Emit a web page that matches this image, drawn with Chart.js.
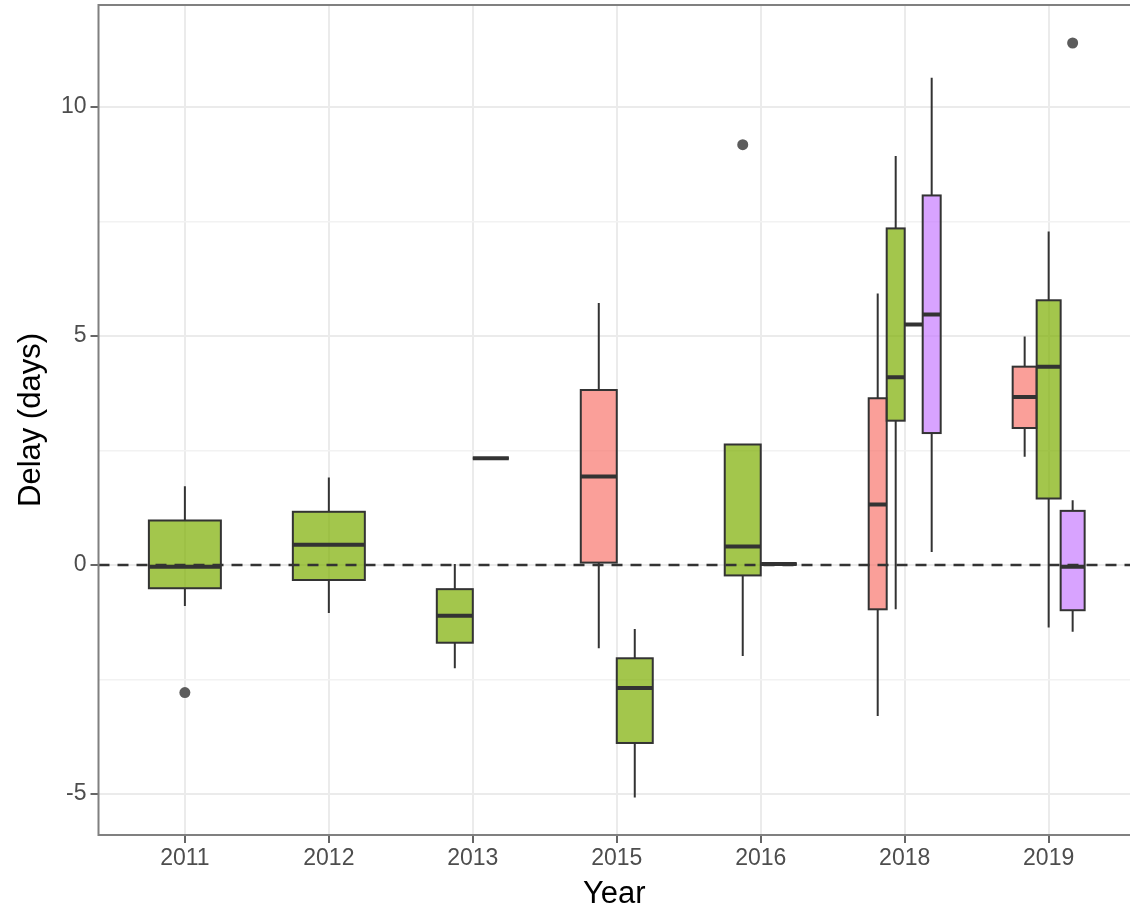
<!DOCTYPE html>
<html>
<head>
<meta charset="utf-8">
<script src="https://cdn.jsdelivr.net/npm/chart.js@4.4.1/dist/chart.umd.min.js"></script>
<style>
  html, body { margin: 0; padding: 0; background: #fff; }
  #wrap { width: 1130px; height: 915px; }
</style>
</head>
<body>
<div id="wrap"><canvas id="grafico" width="1130" height="915"></canvas></div>
<script>
// categorias del eje x
const years = ['2011', '2012', '2013', '2015', '2016', '2018', '2019']

// cajas: [bigote inferior, Q1, mediana, Q3, bigote superior], null si no hay datos
const salmonBoxes = [null, null, null, [-1.82, 0.05, 1.93, 3.82, 5.72], null, [-3.30, -0.97, 1.32, 3.64, 5.93], [2.36, 2.99, 3.67, 4.33, 4.99]]
const greenBoxes = [[-0.90, -0.51, -0.04, 0.97, 1.72], [-1.05, -0.33, 0.44, 1.16, 1.91], [-2.26, -1.70, -1.11, -0.53, 0.02], [-5.08, -3.89, -2.69, -2.04, -1.40], [-1.99, -0.23, 0.40, 2.63, 2.63], [-0.97, 3.15, 4.10, 7.35, 8.93], [-1.37, 1.45, 4.33, 5.78, 7.28]]
const cyanBoxes = [null, null, [2.33, 2.33, 2.33, 2.33, 2.33], null, [0.02, 0.02, 0.02, 0.02, 0.02], [5.25, 5.25, 5.25, 5.25, 5.25], null]
const purpleBoxes = [null, null, null, null, null, [0.28, 2.88, 5.47, 8.07, 10.64], [-1.46, -0.99, -0.04, 1.18, 1.41]]

// valores atipicos por año
const greenOutliers = [[-2.79], [], [], [], [9.18], [], []]
const purpleOutliers = [[], [], [], [], [], [], [11.40]]

// ticks del eje y
const yTicks = [-5, 0, 5, 10]
const yMinor = [-2.5, 2.5, 7.5]

const grupos = [
    { boxes: salmonBoxes, outliers: null, color: 'rgba(248, 118, 109, 0.7)' },
    { boxes: greenBoxes, outliers: greenOutliers, color: 'rgba(124, 174, 0, 0.7)' },
    { boxes: cyanBoxes, outliers: null, color: 'rgba(0, 191, 196, 0.7)' },
    { boxes: purpleBoxes, outliers: purpleOutliers, color: 'rgba(199, 124, 255, 0.7)' }
]

const anchoDodge = 0.5
const fuente = 'Liberation Sans, Arial, sans-serif'

// posicion (en unidades del eje x) de cada caja, como el dodge de ggplot
function posiciones(i) {
    const presentes = grupos.filter(g => g.boxes[i])
    const w = anchoDodge / presentes.length
    return presentes.map((g, k) => ({ g, cx: i - anchoDodge / 2 + (k + 0.5) * w, w }))
}

const puntosAtipicos = []
years.forEach((yr, i) => {
    posiciones(i).forEach(p => {
        if (p.g.outliers) {
            p.g.outliers[i].forEach(v => puntosAtipicos.push({ x: p.cx, y: v }))
        }
    })
})

const cajasPlugin = {
    id: 'cajas',
    beforeDatasetsDraw(chart) {
        const { ctx, chartArea, scales: { x, y } } = chart
        ctx.save()
        ctx.beginPath()
        ctx.rect(chartArea.left, chartArea.top, chartArea.width, chartArea.height)
        ctx.clip()
        years.forEach((yr, i) => {
            posiciones(i).forEach(p => {
                const [lo, q1, med, q3, hi] = p.g.boxes[i]
                const xl = x.getPixelForValue(p.cx - p.w / 2)
                const xr = x.getPixelForValue(p.cx + p.w / 2)
                const xc = x.getPixelForValue(p.cx)
                ctx.strokeStyle = '#333333'
                // bigotes
                ctx.lineWidth = 2
                ctx.beginPath()
                ctx.moveTo(xc, y.getPixelForValue(hi))
                ctx.lineTo(xc, y.getPixelForValue(q3))
                ctx.moveTo(xc, y.getPixelForValue(q1))
                ctx.lineTo(xc, y.getPixelForValue(lo))
                ctx.stroke()
                // caja
                const yt = y.getPixelForValue(q3)
                const yb = y.getPixelForValue(q1)
                ctx.fillStyle = p.g.color
                ctx.fillRect(xl, yt, xr - xl, yb - yt)
                ctx.lineWidth = 2
                ctx.strokeRect(xl, yt, xr - xl, yb - yt)
                // mediana
                ctx.lineWidth = 4
                ctx.beginPath()
                ctx.moveTo(xl, y.getPixelForValue(med))
                ctx.lineTo(xr, y.getPixelForValue(med))
                ctx.stroke()
            })
        })
        ctx.restore()
    },
    afterDraw(chart) {
        const { ctx, chartArea } = chart
        ctx.save()
        ctx.strokeStyle = '#808080'
        ctx.lineWidth = 2
        ctx.beginPath()
        ctx.moveTo(chartArea.right + 2, chartArea.top)
        ctx.lineTo(chartArea.left, chartArea.top)
        ctx.lineTo(chartArea.left, chartArea.bottom)
        ctx.lineTo(chartArea.right + 2, chartArea.bottom)
        ctx.stroke()
        ctx.restore()
    }
}

const ctx = document.getElementById('grafico').getContext('2d')
new Chart(ctx, {
    type: 'scatter',
    data: {
        datasets: [
            {
                type: 'line',
                data: [{ x: -0.6, y: 0 }, { x: 6.6, y: 0 }],
                borderColor: '#333333',
                borderWidth: 2.5,
                borderDash: [11, 8],
                pointRadius: 0,
                fill: false
            },
            {
                data: puntosAtipicos,
                pointRadius: 5.5,
                pointBackgroundColor: '#5c5c5c',
                pointBorderWidth: 0
            }
        ]
    },
    options: {
        responsive: false,
        animation: false,
        devicePixelRatio: 1,
        layout: { autoPadding: false, padding: { top: 5, left: 0, right: 0, bottom: 0 } },
        plugins: { legend: { display: false }, tooltip: { enabled: false } },
        scales: {
            x: {
                type: 'linear',
                min: -0.6,
                max: 6.565,
                afterBuildTicks: s => { s.ticks = years.map((yr, i) => ({ value: i })) },
                afterFit: s => { s.height = 80; s.paddingLeft = 0; s.paddingRight = 0 },
                ticks: {
                    callback: v => years[v],
                    color: '#4D4D4D',
                    font: { family: fuente, size: 23 },
                    padding: 2,
                    maxRotation: 0,
                    autoSkip: false
                },
                grid: { color: '#EBEBEB', lineWidth: 2, tickColor: '#333333', tickLength: 8, tickWidth: 1.5 },
                border: { display: false },
                title: {
                    display: true,
                    text: 'Year',
                    color: '#000',
                    font: { family: fuente, size: 31 },
                    padding: { top: 0, bottom: 2 }
                }
            },
            y: {
                min: -5.9,
                max: 12.23,
                afterBuildTicks: s => { s.ticks = yTicks.concat(yMinor).map(v => ({ value: v })) },
                afterFit: s => { s.width = 98.5; s.paddingTop = 0; s.paddingBottom = 0 },
                ticks: {
                    callback: v => yTicks.includes(v) ? String(v) : '',
                    color: '#4D4D4D',
                    font: { family: fuente, size: 23 },
                    padding: 4
                },
                grid: {
                    color: c => yTicks.includes(c.tick.value) ? '#EBEBEB' : '#F2F2F2',
                    lineWidth: c => yTicks.includes(c.tick.value) ? 2 : 1.5,
                    tickColor: c => yTicks.includes(c.tick.value) ? '#333333' : 'rgba(0,0,0,0)',
                    tickLength: 8,
                    tickWidth: 1.5
                },
                border: { display: false },
                title: {
                    display: true,
                    text: 'Delay (days)',
                    color: '#000',
                    font: { family: fuente, size: 31 },
                    padding: { top: 13, bottom: 0 }
                }
            }
        }
    },
    plugins: [cajasPlugin]
})
</script>
</body>
</html>
